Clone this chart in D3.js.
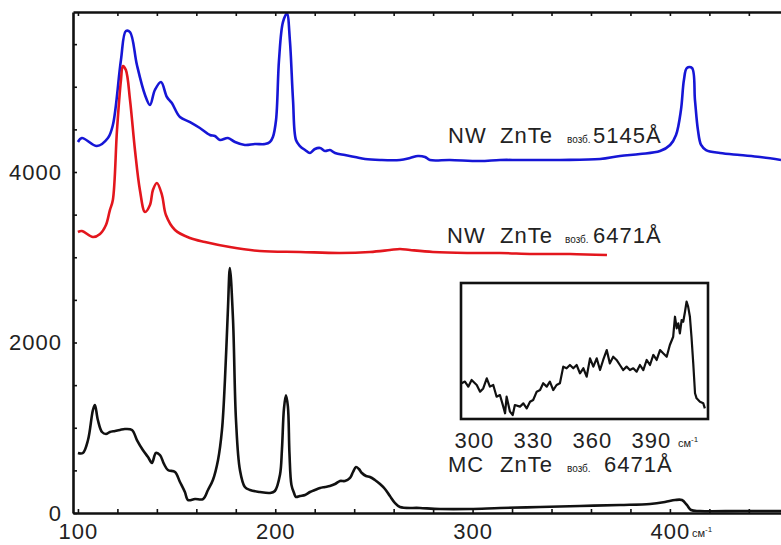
<!DOCTYPE html>
<html>
<head>
<meta charset="utf-8">
<script src="https://cdn.jsdelivr.net/npm/d3@7"></script>
<style>
  body { margin: 0; background: #fff; }
  svg { display: block; }
  text { font-family: "Liberation Sans", Arial, sans-serif; fill: #222; }
</style>
</head>
<body>
<svg id="chart" width="781" height="545"></svg>
<script>
// Raman spectra of ZnTe: wavenumber (cm-1) and intensity (counts)

// NW ZnTe, excitation 5145 Å
const nw5145X = [100.0, 102.0, 109.6, 115.2, 117.7, 121.8, 124.3, 126.4, 129.9, 134.0, 136.5, 139.0, 142.1, 145.1, 147.6, 151.7, 156.8, 161.8, 166.9, 169.4, 172.0, 176.0, 179.6, 184.6, 189.7, 194.8, 197.3, 198.8, 200.4, 201.9, 203.9, 205.9, 207.4, 209.0, 210.5, 212.5, 215.1, 217.6, 220.1, 222.7, 225.2, 227.7, 230.3, 235.3, 240.4, 245.5, 253.1, 263.2, 268.3, 272.3, 275.9, 278.4, 288.5, 303.7, 313.9, 324.0, 344.3, 364.6, 374.7, 384.8, 395.0, 400.1, 403.1, 405.6, 407.1, 408.6, 411.2, 412.7, 414.2, 415.8, 418.3, 425.4, 435.5, 445.7, 456.3];
const nw5145Y = [4352, 4399, 4305, 4399, 4551, 5314, 5654, 5642, 5255, 4903, 4786, 4962, 5056, 4880, 4809, 4645, 4586, 4516, 4434, 4422, 4375, 4399, 4352, 4317, 4328, 4328, 4352, 4410, 4610, 5314, 5759, 5860, 5548, 4844, 4375, 4305, 4258, 4223, 4270, 4282, 4246, 4258, 4223, 4199, 4176, 4152, 4141, 4141, 4164, 4188, 4176, 4141, 4141, 4129, 4141, 4141, 4141, 4152, 4188, 4211, 4246, 4317, 4434, 4727, 5079, 5220, 5220, 4844, 4493, 4317, 4258, 4223, 4199, 4176, 4141];

// NW ZnTe, excitation 6471 Å
const nw6471X = [100.0, 102.0, 107.6, 111.2, 114.2, 116.2, 117.7, 119.8, 121.8, 122.8, 124.3, 126.4, 128.9, 131.4, 134.0, 136.5, 138.0, 140.0, 142.6, 144.6, 149.2, 156.8, 164.4, 177.0, 192.2, 212.5, 232.8, 248.0, 258.1, 263.2, 268.3, 279.9, 297.2, 313.9, 330.6, 349.4, 368.1];
const nw6471Y = [3296, 3308, 3237, 3273, 3378, 3554, 3671, 4493, 5079, 5243, 5196, 4844, 4258, 3789, 3531, 3613, 3789, 3871, 3730, 3496, 3320, 3226, 3179, 3120, 3073, 3062, 3050, 3062, 3085, 3097, 3085, 3062, 3050, 3050, 3038, 3038, 3026];

// MC ZnTe, excitation 6471 Å
const mc6471X = [100.0, 102.5, 105.1, 107.6, 108.6, 110.1, 112.2, 114.2, 116.2, 118.8, 121.3, 123.8, 127.4, 129.9, 132.9, 135.5, 137.5, 139.5, 141.6, 143.6, 145.6, 149.2, 151.7, 154.2, 155.8, 159.3, 163.4, 165.9, 168.4, 171.0, 173.0, 174.5, 176.0, 177.0, 178.6, 180.1, 182.1, 184.6, 187.2, 192.2, 197.3, 199.8, 202.4, 203.4, 204.4, 205.4, 206.4, 207.2, 208.2, 209.5, 210.5, 212.5, 215.1, 217.6, 220.1, 222.7, 225.2, 227.7, 230.3, 232.8, 235.3, 237.9, 239.4, 240.9, 242.4, 243.9, 246.0, 248.0, 250.5, 253.1, 255.6, 258.1, 260.7, 263.2, 273.3, 283.5, 298.7, 313.9, 334.2, 354.4, 374.7, 389.9, 397.5, 402.6, 406.1, 408.6, 410.7, 415.3, 435.5, 456.3];
const mc6471Y = [704, 704, 856, 1208, 1267, 1091, 950, 927, 950, 962, 974, 985, 974, 856, 739, 657, 587, 704, 680, 575, 504, 481, 364, 246, 152, 164, 164, 270, 387, 622, 974, 1560, 2381, 2874, 2264, 1091, 504, 305, 270, 246, 235, 258, 450, 750, 1220, 1380, 1250, 700, 330, 235, 188, 199, 211, 246, 270, 293, 305, 317, 340, 375, 375, 411, 481, 540, 516, 469, 434, 422, 387, 340, 282, 199, 117, 70, 59, 47, 47, 59, 70, 82, 94, 106, 129, 152, 152, 94, 35, 23, 23, 23];

// Inset: MC ZnTe, 293-419 cm-1, relative intensity
const insetX = [293.7, 295.4, 297.1, 298.8, 301.4, 303.1, 304.7, 306.5, 308.1, 309.8, 311.5, 313.2, 314.9, 315.8, 316.6, 318.3, 319.7, 320.8, 323.4, 325.1, 326.8, 328.5, 330.1, 331.9, 333.6, 335.2, 337.0, 338.6, 340.3, 342.0, 343.7, 345.4, 347.1, 348.8, 350.5, 352.2, 353.9, 355.6, 357.3, 359.0, 360.7, 362.4, 364.1, 365.7, 367.5, 369.1, 370.8, 372.5, 374.2, 375.9, 377.6, 379.3, 381.0, 382.7, 384.4, 386.1, 387.8, 389.5, 391.2, 392.9, 394.6, 396.2, 398.0, 399.6, 401.3, 402.2, 403.1, 403.9, 404.7, 405.6, 406.4, 407.3, 408.1, 408.9, 409.8, 410.6, 411.5, 412.4, 413.2, 414.9, 416.6, 417.4];
const insetY = [26.3, 27.5, 23.8, 28.7, 25.0, 20.1, 22.5, 29.9, 23.8, 25.0, 16.4, 17.6, 9.1, 4.2, 16.4, 5.4, 2.9, 10.3, 9.1, 11.5, 7.8, 12.7, 14.0, 20.1, 21.3, 26.3, 23.8, 27.5, 21.3, 25.0, 26.3, 38.5, 37.3, 39.7, 37.3, 39.7, 33.6, 37.3, 31.1, 44.6, 38.5, 44.6, 36.0, 43.4, 50.7, 40.9, 45.8, 43.4, 39.7, 36.0, 38.5, 36.0, 37.3, 34.8, 39.7, 36.0, 43.4, 39.7, 47.1, 43.4, 50.7, 48.3, 45.8, 54.4, 60.5, 75.2, 66.7, 70.3, 63.0, 72.8, 71.5, 78.9, 86.3, 82.6, 75.2, 60.5, 40.9, 18.9, 15.2, 12.7, 11.5, 7.8];

// Axis tick values
const xTicks = d3.range(100, 460, 20);
const xLabels = [100, 200, 300, 400];
const yTicks = d3.range(0, 5877, 500);
const yLabels = [0, 2000, 4000];
const insetTicks = [300, 330, 360, 390];

const svg = d3.select("#chart");

const x = d3.scaleLinear().domain([97.5, 456.3]).range([73, 781]);
const y = d3.scaleLinear().domain([0, 5877]).range([513, 12]);

svg.append("defs").append("clipPath").attr("id", "plotClip")
  .append("rect").attr("x", 73).attr("y", 10).attr("width", 708).attr("height", 505);

const line = d3.line()
  .x(d => x(d[0])).y(d => y(d[1]))
  .curve(d3.curveCatmullRom.alpha(0.5));

const series = [
  { xs: nw5145X, ys: nw5145Y, color: "#1616d6" },
  { xs: nw6471X, ys: nw6471Y, color: "#e3161d" },
  { xs: mc6471X, ys: mc6471Y, color: "#111" }
];

const plot = svg.append("g").attr("clip-path", "url(#plotClip)");
series.forEach(s => {
  plot.append("path")
    .datum(s.xs.map((v, i) => [v, s.ys[i]]))
    .attr("d", line)
    .attr("fill", "none")
    .attr("stroke", s.color)
    .attr("stroke-width", 2.6)
    .attr("stroke-linejoin", "round");
});

function styleAxis(g) {
  g.select(".domain").attr("stroke", "#111").attr("stroke-width", 2.6);
  g.selectAll(".tick line").attr("stroke", "#111").attr("stroke-width", 1.6);
  g.selectAll("text")
    .attr("font-family", "'Liberation Sans', Arial, sans-serif")
    .attr("font-size", 22)
    .attr("letter-spacing", 1)
    .attr("fill", "#222");
}

// bottom axis
svg.append("g").attr("transform", "translate(0,513)")
  .call(d3.axisBottom(x).tickValues(xTicks).tickSizeInner(-4).tickSizeOuter(0).tickPadding(10)
    .tickFormat(d => xLabels.includes(d) ? d : ""))
  .call(styleAxis);

// top axis
svg.append("g").attr("transform", "translate(0,12)")
  .call(d3.axisTop(x).tickValues(xTicks).tickSizeInner(-4).tickSizeOuter(0).tickFormat(""))
  .call(styleAxis);

// left axis
svg.append("g").attr("transform", "translate(73,0)")
  .call(d3.axisLeft(y).tickValues(yTicks).tickSizeInner(-4).tickSizeOuter(0).tickPadding(11)
    .tickFormat(d => yLabels.includes(d) ? d : ""))
  .call(styleAxis);

// unit after the 400 label
function unitLabel(xPos, yBase) {
  const t = svg.append("text").attr("x", xPos).attr("y", yBase).attr("font-size", 11);
  t.append("tspan").text("см");
  t.append("tspan").attr("font-size", 8).attr("dy", -5).text("-1");
}
unitLabel(x(400) + 22, 537);

// series labels
function seriesLabel(xs, yBase, sample, lambda) {
  const g = svg.append("g");
  g.append("text").attr("x", xs[0]).attr("y", yBase).attr("font-size", 22).attr("letter-spacing", 1).text(sample);
  g.append("text").attr("x", xs[1]).attr("y", yBase).attr("font-size", 22).attr("letter-spacing", 1).text("ZnTe");
  g.append("text").attr("x", xs[2]).attr("y", yBase).attr("font-size", 10).text("возб.");
  g.append("text").attr("x", xs[3]).attr("y", yBase).attr("font-size", 22).attr("letter-spacing", 1).text(lambda);
}
seriesLabel([448, 500, 567, 593], 143, "NW", "5145Å");
seriesLabel([447, 500, 565, 593], 243, "NW", "6471Å");
seriesLabel([448, 500, 567, 604], 472, "MC", "6471Å");

// inset
const ix = d3.scaleLinear().domain([293.4, 419]).range([461, 708]);
const iy = d3.scaleLinear().domain([0, 100]).range([419, 283]);

svg.append("defs").append("clipPath").attr("id", "insetClip")
  .append("rect").attr("x", 461).attr("y", 283).attr("width", 247).attr("height", 136);

svg.append("rect").attr("x", 461).attr("y", 283).attr("width", 247).attr("height", 136)
  .attr("fill", "#fff").attr("stroke", "#111").attr("stroke-width", 2.6);

svg.append("g").attr("clip-path", "url(#insetClip)")
  .append("path")
  .datum(insetX.map((v, i) => [v, insetY[i]]))
  .attr("d", d3.line().x(d => ix(d[0])).y(d => iy(d[1])))
  .attr("fill", "none").attr("stroke", "#111").attr("stroke-width", 2.2).attr("stroke-linejoin", "round");

const insetAxis = svg.append("g").attr("transform", "translate(0,419)")
  .call(d3.axisBottom(ix).tickValues(insetTicks).tickSize(0).tickPadding(13));
insetAxis.select(".domain").remove();
insetAxis.call(styleAxis);

unitLabel(ix(390) + 27, 447);
</script>
</body>
</html>
